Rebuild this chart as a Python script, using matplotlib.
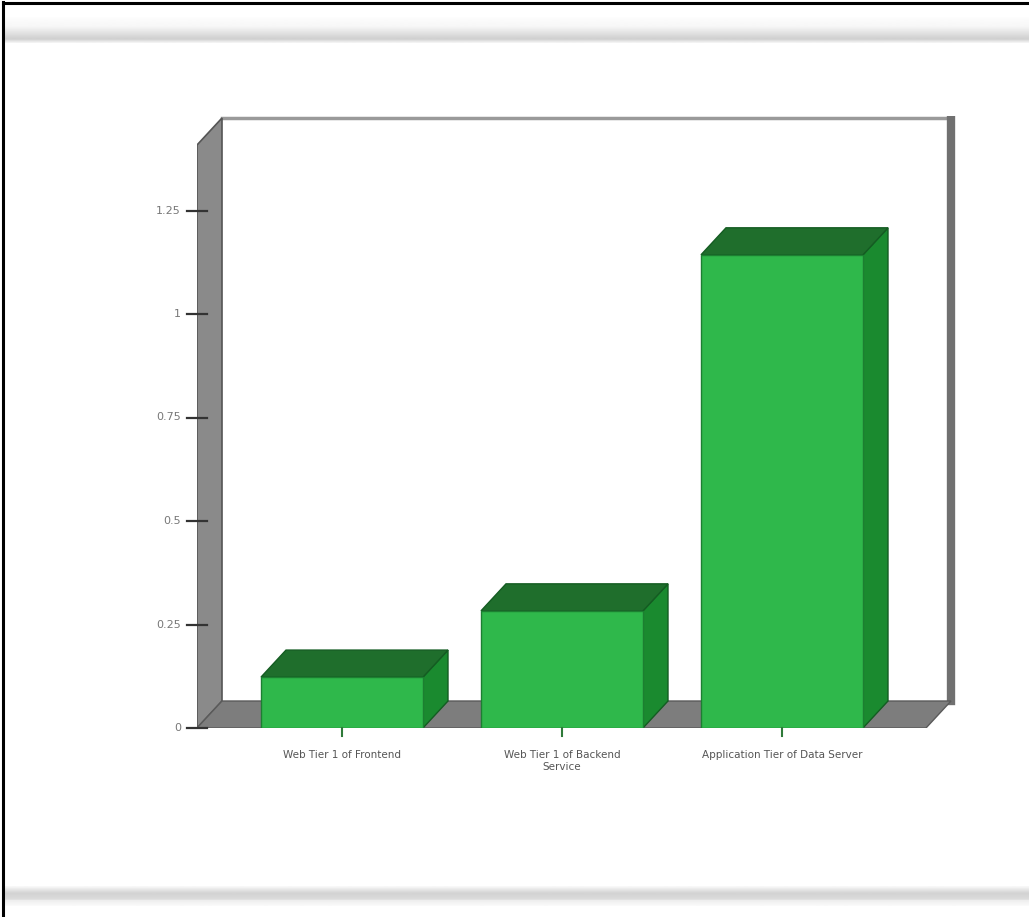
import numpy as np
import matplotlib.pyplot as plt
from matplotlib.patches import Polygon, Rectangle

# data
categories = ["Web Tier 1 of Frontend",
              "Web Tier 1 of Backend\nService",
              "Application Tier of Data Server"]
values = [0.123, 0.283, 1.143]
yticks = [0, 0.25, 0.5, 0.75, 1.0, 1.25]
ytick_labels = ["0", "0.25", "0.5", "0.75", "1", "1.25"]

W, H = 1029, 917
fig = plt.figure(figsize=(W / 100, H / 100), dpi=100)
fig.patch.set_facecolor("white")

# page furniture: border lines and grey header/footer bands
bg = fig.add_axes([0, 0, 1, 1])
bg.set_xlim(0, W)
bg.set_ylim(H, 0)
bg.axis("off")
band = np.concatenate([np.linspace(0.99, 0.97, 8), np.linspace(0.97, 0.82, 12),
                       np.linspace(0.82, 0.95, 4)])
bg.imshow(band[:, None], cmap="gray", vmin=0, vmax=1, aspect="auto",
          extent=(4, W, 43, 17), interpolation="bilinear")
band2 = np.concatenate([np.linspace(0.97, 0.83, 6), np.linspace(0.83, 0.86, 5),
                        np.linspace(0.93, 0.98, 5)])
bg.imshow(band2[:, None], cmap="gray", vmin=0, vmax=1, aspect="auto",
          extent=(4, W, 906, 886), interpolation="bilinear")
bg.plot([3, 3], [2, H], color="black", lw=2.2)
bg.plot([3, W], [3, 3], color="black", lw=2.2)

# chart axes (front plane), pixel geometry of the 3D frame
x_left_px, x_right_px = 197, 962
y_zero_px, y_top_px = 728, 116
px_per_x = 220.0
px_per_y = 414.0
x0_px = 342  # centre of first bar's front face

ax = fig.add_axes([x_left_px / W, (H - y_zero_px) / H,
                   (x_right_px - x_left_px) / W, (y_zero_px - y_top_px) / H])
ax.set_xlim((x_left_px - x0_px) / px_per_x, (x_right_px - x0_px) / px_per_x)
ax.set_ylim(0, (y_zero_px - y_top_px) / px_per_y)
ax.axis("off")

dx = 25 / px_per_x
dy = 27 / px_per_y
wall_x = (x_left_px - x0_px) / px_per_x
floor_right = (926 - x0_px) / px_per_x
ytop = (y_zero_px - 118) / px_per_y

# back wall
ax.add_patch(Rectangle((wall_x + dx, dy), floor_right - wall_x, ytop - dy,
                       facecolor="white", edgecolor="none", zorder=1))
ax.plot([wall_x + dx, floor_right + dx], [ytop, ytop], color="#9a9a9a", lw=2.5, zorder=2)
ax.plot([floor_right + dx, floor_right + dx], [dy, ytop], color="#707070", lw=6, zorder=2)

# left wall
ax.add_patch(Polygon([(wall_x, 0), (wall_x + dx, dy), (wall_x + dx, ytop),
                      (wall_x, ytop - dy)], closed=True,
                     facecolor="#8a8a8a", edgecolor="#555555", lw=1.2, zorder=2))
# floor
ax.add_patch(Polygon([(wall_x, 0), (floor_right, 0), (floor_right + dx, dy),
                      (wall_x + dx, dy)], closed=True,
                     facecolor="#7d7d7d", edgecolor="#5a5a5a", lw=1, zorder=2))

# y ticks and labels on the wall's front edge
for t, lab in zip(yticks, ytick_labels):
    ax.plot([wall_x - 10 / px_per_x, wall_x + 10 / px_per_x], [t, t],
            color="#333333", lw=1.6, zorder=3, clip_on=False)
    ax.text(wall_x - 16 / px_per_x, t, lab, ha="right", va="center",
            fontsize=8, color="#777777", zorder=3)

# bars
bw = 162 / px_per_x
front_c = "#2fb84b"
top_c = "#1f6e2c"
side_c = "#1a8a2f"
edge_c = "#145c22"
for i, (cat, v) in enumerate(zip(categories, values)):
    xl, xr = i - bw / 2, i + bw / 2
    ax.add_patch(Polygon([(xr, 0), (xr + dx, dy), (xr + dx, v + dy), (xr, v)],
                         closed=True, facecolor=side_c, edgecolor=edge_c, lw=1, zorder=4))
    ax.add_patch(Polygon([(xl, v), (xr, v), (xr + dx, v + dy), (xl + dx, v + dy)],
                         closed=True, facecolor=top_c, edgecolor=edge_c, lw=1, zorder=4))
    ax.add_patch(Rectangle((xl, 0), bw, v, facecolor=front_c,
                           edgecolor="#1c7f31", lw=1, zorder=5))
    ax.plot([i, i], [0, -8 / px_per_y], color="#2f7a3a", lw=1.5, zorder=5, clip_on=False)
    ax.text(i, -22 / px_per_y, cat, ha="center", va="top", fontsize=7.5,
            color="#555555", linespacing=1.3, clip_on=False)

fig.savefig("out.png", dpi=100)
